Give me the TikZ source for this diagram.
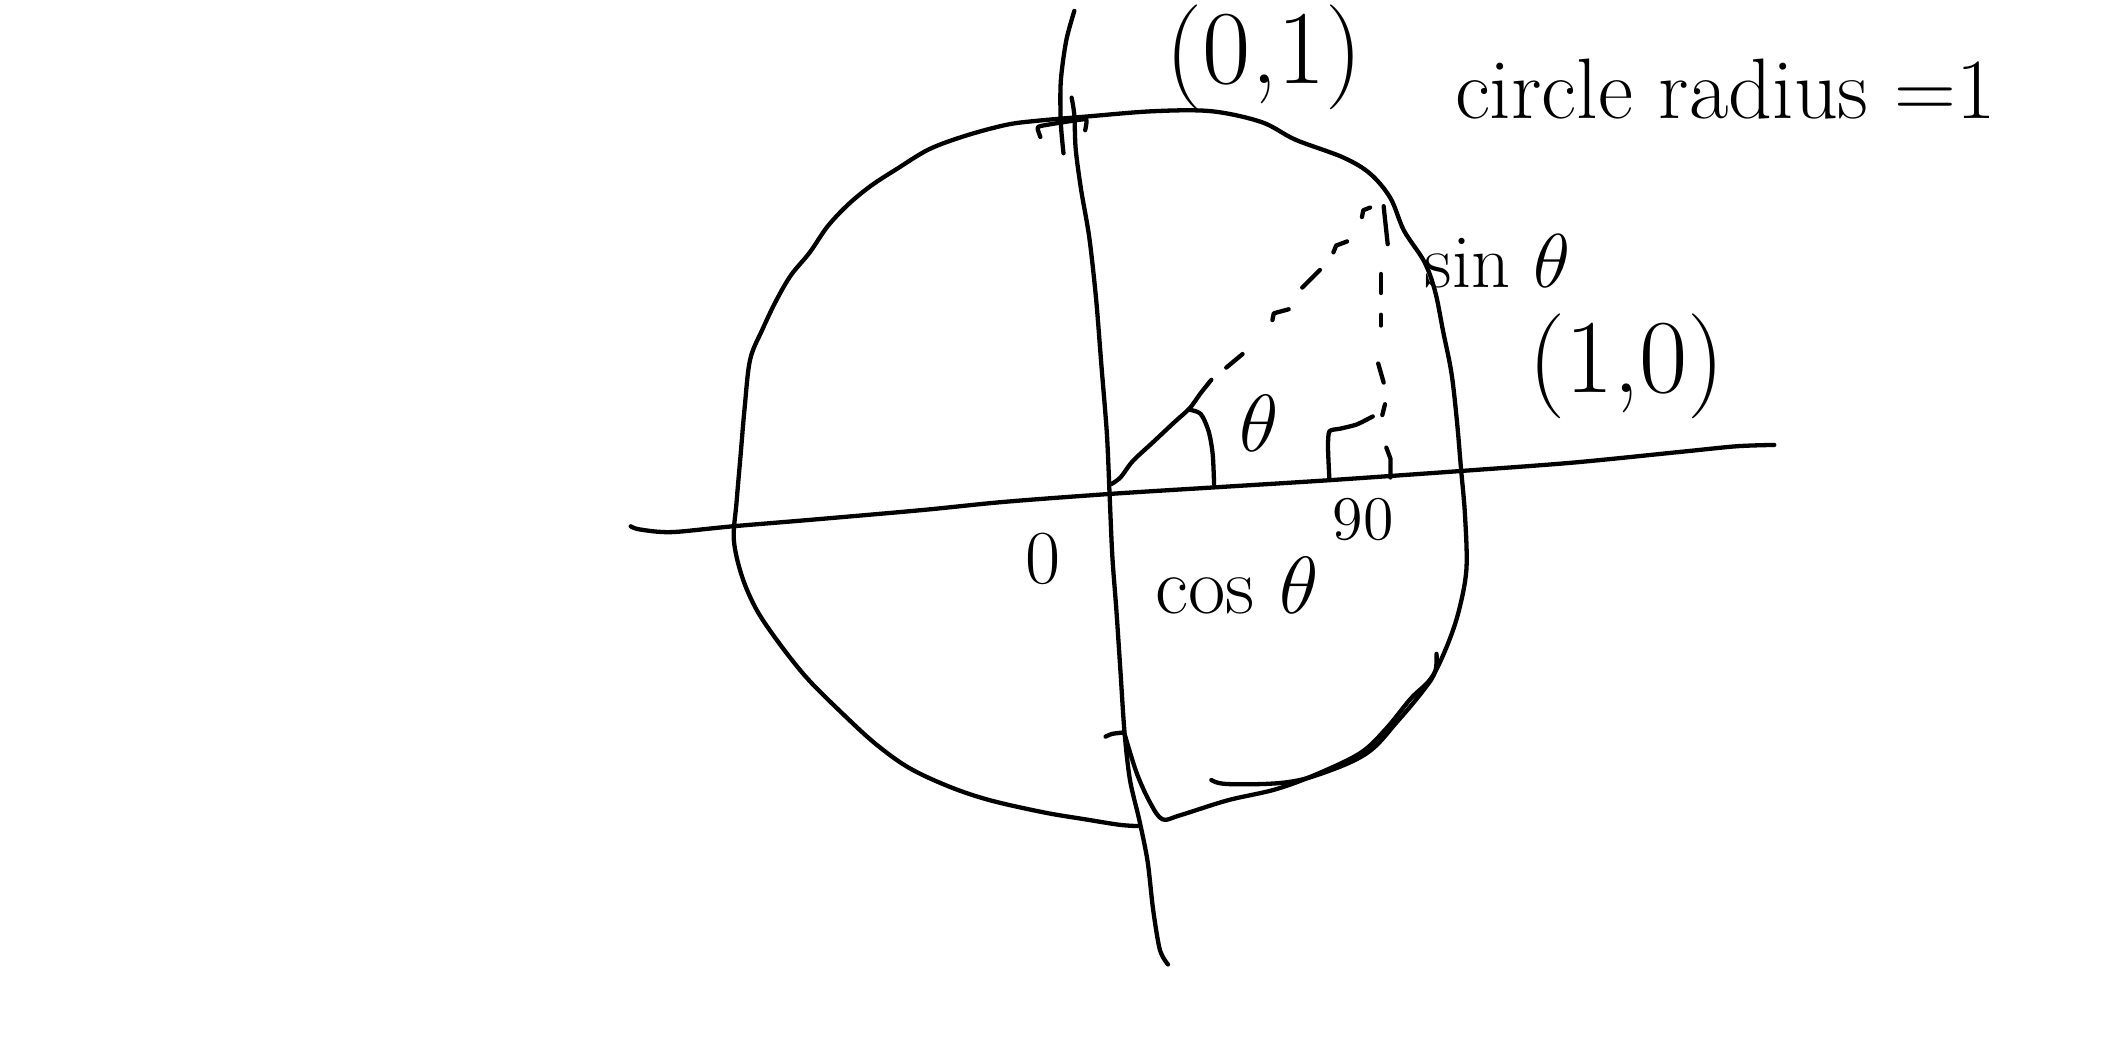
\RequirePackage{fix-cm}
\documentclass[tikz,border=0pt]{standalone}
\begin{document}
\begin{tikzpicture}[x=0.01cm,y=-0.01cm,
  pen/.style={line width=0.9pt,line cap=round,line join=round},
  txt/.style={inner sep=0pt,anchor=center},
]
\useasboundingbox[fill=white] (0,0) rectangle (1568,770);
% circle (wobbly, hand drawn)
\draw[pen] plot[smooth,tension=0.55] coordinates {
 (839,609) (825,608) (800,604) (770,599) (730,590) (700,580) (670,566) (645,548)
 (620,525) (595,500) (575,475) (558,450) (547,425) (541,398) (543,370) (546,335)
 (549,300) (553,265) (562,243) (572,222) (583,203) (597,186) (610,167) (625,151)
 (642,137) (662,124) (685,110) (712,100) (742,92) (765,89) (800,86) (850,82)
 (893,82) (930,90) (955,103) (990,116) (1010,128) (1025,146) (1035,170) (1050,193)
 (1058,215) (1064,245) (1070,275) (1074,310) (1077,345) (1080,380) (1081,420)
 (1075,452) (1066,478) (1055,500) (1040,515) (1022,537) (1003,555) (970,571)
 (940,582) (905,590) (870,601) (857,604) (848,592) (838,570) (829,541)};
% inner arc stroke at the bottom right
\draw[pen] plot[smooth,tension=0.6] coordinates {
 (893,575) (905,578) (946,577) (975,570) (1008,555) (1030,532) (1050,508) (1058,495) (1059,482)};
% little mark where the circle meets the y axis
\draw[pen] plot[smooth,tension=0.4] coordinates {(767,101) (765,94) (772,92) (798,88) (801,89) (800,96)};
% vertical axis (two strokes)
\draw[pen] plot[smooth] coordinates {(792,8) (786,30) (782,60) (782,90) (784,113)};
\draw[pen] plot[smooth,tension=0.5] coordinates {
 (790,72) (792,85) (793,110) (797,140) (803,175) (808,220) (812,270) (816,320)
 (818,365) (820,410) (823,450) (826,495) (829,540) (833,575) (840,605) (846,635)
 (850,670) (855,700) (861,711)};
\draw[pen] plot[smooth] coordinates {(815,543) (820,541) (828,540)};
% horizontal axis
\draw[pen] plot[smooth,tension=0.5] coordinates {
 (465,388) (470,390) (485,392) (500,392) (540,388) (600,383) (680,376) (740,370)
 (820,364) (900,359) (980,354) (1080,347) (1160,341) (1240,333) (1280,329) (1308,328)};
% radius: solid part then dashed
\draw[pen] plot[smooth] coordinates {(819,357) (826,352) (835,340) (850,326) (866,311) (877,301) (885,290) (893,280)};
\draw[pen] (904,271) -- (916,261);
\draw[pen] (938,236) -- (939,231) -- (950,228);
\draw[pen] (960,212) -- (973,199);
\draw[pen] (983,186) -- (985,181) -- (993,178);
\draw[pen] (1004,160) -- (1005,155) -- (1010,153);
% vertical dashed (sin)
\draw[pen] (1020,152) -- (1023,180);
\draw[pen] (1018,202) -- (1018,216);
\draw[pen] (1018,232) -- (1018,240);
\draw[pen] (1016,268) -- (1020,282);
\draw[pen] (1021,298) -- (1019,306);
\draw[pen] (1022,330) -- (1025,338) -- (1025,352);
% angle arc
\draw[pen] plot[smooth] coordinates {(876,302) (885,305) (891,318) (894,335) (895,357)};
% right-angle mark
\draw[pen] plot[smooth,tension=0.4] coordinates {(980,353) (979,330) (980,318) (988,316) (1000,313) (1012,307)};
% labels
\node[txt,font=\fontsize{22}{26}\selectfont] (p01) at (932,42) {(0,1)};
\node[txt,font=\fontsize{18}{22}\selectfont] (rad) at (1272,66) {circle radius =1};
\node[txt,font=\fontsize{16}{20}\selectfont] (sin) at (1104,193) {sin $\theta$};
\node[txt,font=\fontsize{22}{26}\selectfont] (p10) at (1199,270) {(1,0)};
\node[txt,font=\fontsize{17}{20}\selectfont] (th) at (928,312) {$\theta$};
\node[txt,font=\fontsize{13}{16}\selectfont] (ninety) at (1005,383) {90};
\node[txt,font=\fontsize{16}{20}\selectfont] (zero) at (769,412) {0};
\node[txt,font=\fontsize{17}{20}\selectfont] (cos) at (912,432) {cos $\theta$};
\end{tikzpicture}
\end{document}
